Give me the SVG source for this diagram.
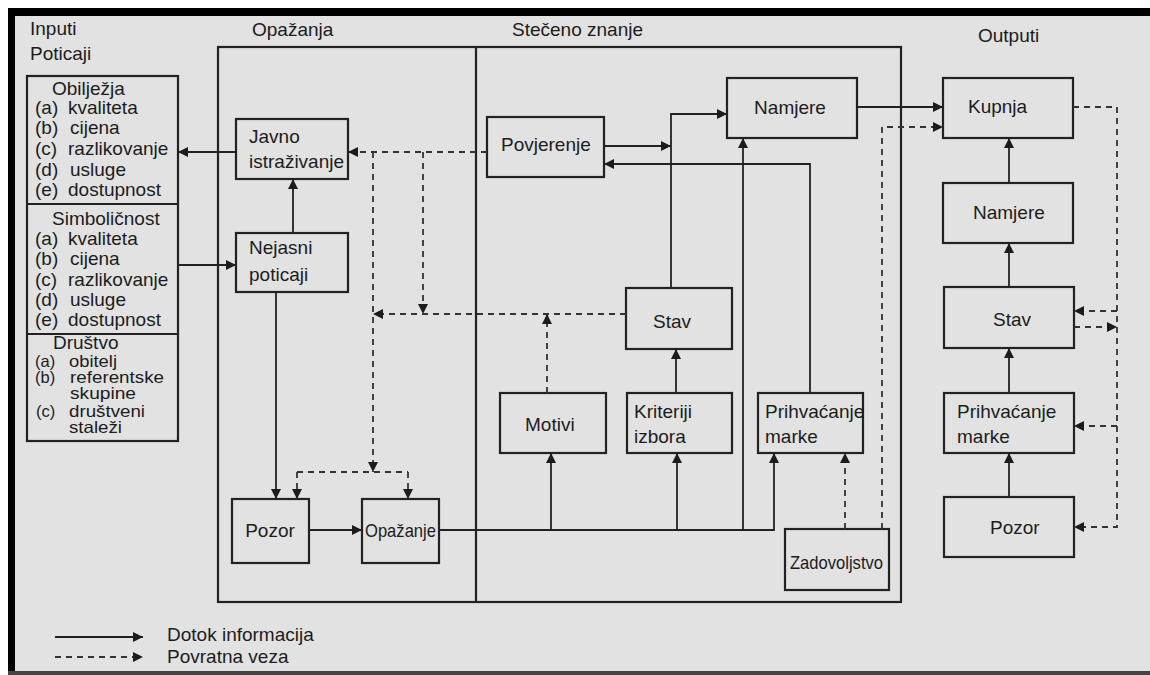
<svg xmlns="http://www.w3.org/2000/svg" width="1150" height="675" viewBox="0 0 1150 675">
<defs>
<style>
text{font-family:"Liberation Sans",Arial,sans-serif;font-size:19px;fill:#1c1c1c}
.m{text-anchor:middle}
.s{font-size:16.5px}
.box{fill:none;stroke:#222;stroke-width:2.2}
.ln{fill:none;stroke:#222;stroke-width:1.8}
.ds{fill:none;stroke:#333;stroke-width:1.8;stroke-dasharray:6 5}
</style>
<marker id="a" viewBox="0 0 10 10" refX="10" refY="5" markerWidth="11" markerHeight="10" markerUnits="userSpaceOnUse" orient="auto">
<path d="M0,0 L10,5 L0,10 Z" fill="#1c1c1c"/>
</marker>
</defs>
<rect x="0" y="0" width="1150" height="675" fill="#ffffff"/>
<rect x="8" y="8" width="1142" height="667" fill="#e2e2e2"/>
<rect x="8" y="8" width="1142" height="8" fill="#000"/>
<rect x="8" y="8" width="7" height="667" fill="#000"/>
<rect x="8" y="671" width="1142" height="4" fill="#444"/>

<g id="headers">
<text x="30" y="35">Inputi</text>
<text x="30" y="60">Poticaji</text>
<text x="252" y="36">Opažanja</text>
<text x="512" y="36">Stečeno znanje</text>
<text x="978" y="42">Outputi</text>
</g>

<g id="frame">
<rect class="box" x="218" y="47" width="683" height="555"/>
<line class="box" x1="476" y1="47" x2="476" y2="602"/>
</g>

<g id="inputi">
<rect class="box" x="27" y="76" width="151" height="365"/>
<line class="box" x1="27" y1="204" x2="178" y2="204"/>
<line class="box" x1="27" y1="334" x2="178" y2="334"/>
<text x="52" y="95">Obilježja</text>
<text x="35" y="114">(a)</text><text x="68" y="114">kvaliteta</text>
<text x="35" y="134">(b)</text><text x="70" y="134">cijena</text>
<text x="35" y="155">(c)</text><text x="68" y="155">razlikovanje</text>
<text x="35" y="176">(d)</text><text x="70" y="176">usluge</text>
<text x="35" y="196">(e)</text><text x="68" y="196">dostupnost</text>
<text x="52" y="225">Simboličnost</text>
<text x="35" y="245">(a)</text><text x="68" y="245">kvaliteta</text>
<text x="35" y="265">(b)</text><text x="70" y="265">cijena</text>
<text x="35" y="286">(c)</text><text x="68" y="286">razlikovanje</text>
<text x="35" y="306">(d)</text><text x="70" y="306">usluge</text>
<text x="35" y="326">(e)</text><text x="68" y="326">dostupnost</text>
<text x="53" y="349">Društvo</text>
<text class="s" x="35" y="367">(a)</text><text class="s" x="69" y="367" textLength="48" lengthAdjust="spacingAndGlyphs">obitelj</text>
<text class="s" x="35" y="383">(b)</text><text class="s" x="70" y="383" textLength="94" lengthAdjust="spacingAndGlyphs">referentske</text>
<text class="s" x="70" y="399" textLength="66" lengthAdjust="spacingAndGlyphs">skupine</text>
<text class="s" x="36" y="417">(c)</text><text class="s" x="69" y="417" textLength="76" lengthAdjust="spacingAndGlyphs">društveni</text>
<text class="s" x="69" y="433" textLength="53" lengthAdjust="spacingAndGlyphs">staleži</text>
</g>

<g id="javno"><rect class="box" x="236" y="119" width="112" height="60"/><text x="249" y="143">Javno</text><text x="249" y="168">istraživanje</text></g>
<g id="nejasni"><rect class="box" x="236" y="233" width="112" height="59"/><text x="249" y="254">Nejasni</text><text x="249" y="281">poticaji</text></g>
<g id="pozor1"><rect class="box" x="232" y="499" width="77" height="64"/><text class="m" x="270" y="537">Pozor</text></g>
<g id="opazanje"><rect class="box" x="362" y="499" width="77" height="64"/><text x="365" y="537" textLength="71" lengthAdjust="spacingAndGlyphs">Opažanje</text></g>
<g id="povjerenje"><rect class="box" x="487" y="117" width="117" height="60"/><text x="501" y="151">Povjerenje</text></g>
<g id="namjere1"><rect class="box" x="727" y="78" width="130" height="60"/><text class="m" x="790" y="114">Namjere</text></g>
<g id="stav1"><rect class="box" x="626" y="288" width="106" height="61"/><text class="m" x="672" y="328">Stav</text></g>
<g id="motivi"><rect class="box" x="500" y="393" width="106" height="60"/><text x="525" y="431">Motivi</text></g>
<g id="kriteriji"><rect class="box" x="627" y="393" width="105" height="60"/><text x="634" y="418">Kriteriji</text><text x="634" y="443">izbora</text></g>
<g id="prihvacanje1"><rect class="box" x="758" y="393" width="105" height="60"/><text x="765" y="418">Prihvaćanje</text><text x="765" y="443">marke</text></g>
<g id="zadovoljstvo"><rect class="box" x="785" y="529" width="104" height="61"/><text x="790" y="569" textLength="93" lengthAdjust="spacingAndGlyphs">Zadovoljstvo</text></g>
<g id="kupnja"><rect class="box" x="943" y="78" width="130" height="60"/><text x="968" y="113">Kupnja</text></g>
<g id="namjere2"><rect class="box" x="943" y="183" width="130" height="60"/><text x="973" y="219">Namjere</text></g>
<g id="stav2"><rect class="box" x="944" y="287" width="130" height="61"/><text x="993" y="326">Stav</text></g>
<g id="prihvacanje2"><rect class="box" x="944" y="393" width="130" height="60"/><text x="957" y="418">Prihvaćanje</text><text x="957" y="443">marke</text></g>
<g id="pozor2"><rect class="box" x="944" y="497" width="130" height="60"/><text x="990" y="534">Pozor</text></g>

<g id="connectors">
<path class="ln" d="M236,152 H178" marker-end="url(#a)"/>
<path class="ln" d="M178,265 H236" marker-end="url(#a)"/>
<path class="ln" d="M293,233 V179" marker-end="url(#a)"/>
<path class="ln" d="M276,292 V499" marker-end="url(#a)"/>
<path class="ln" d="M309,530 H362" marker-end="url(#a)"/>
<path class="ln" d="M439,530 H774 V453" marker-end="url(#a)"/>
<path class="ln" d="M551,530 V453" marker-end="url(#a)"/>
<path class="ln" d="M677,530 V453" marker-end="url(#a)"/>
<path class="ln" d="M743,530 V138" marker-end="url(#a)"/>
<path class="ln" d="M676,393 V349" marker-end="url(#a)"/>
<path class="ln" d="M671,288 V114 H727" marker-end="url(#a)"/>
<path class="ln" d="M604,146 H671" marker-end="url(#a)"/>
<path class="ln" d="M810,393 V164 H604" marker-end="url(#a)"/>
<path class="ln" d="M857,107 H943" marker-end="url(#a)"/>
<path class="ln" d="M1009,183 V138" marker-end="url(#a)"/>
<path class="ln" d="M1009,287 V243" marker-end="url(#a)"/>
<path class="ln" d="M1009,393 V348" marker-end="url(#a)"/>
<path class="ln" d="M1009,497 V453" marker-end="url(#a)"/>

<path class="ds" d="M487,152 H348" marker-end="url(#a)"/>
<path class="ds" d="M373,152 V472" marker-end="url(#a)"/>
<path class="ds" d="M423,152 V314" marker-end="url(#a)"/>
<path class="ds" d="M626,314 H373" marker-end="url(#a)"/>
<path class="ds" d="M547,393 V314" marker-end="url(#a)"/>
<path class="ds" d="M297,472 H408"/>
<path class="ds" d="M297,472 V499" marker-end="url(#a)"/>
<path class="ds" d="M408,472 V499" marker-end="url(#a)"/>
<path class="ds" d="M845,529 V453" marker-end="url(#a)"/>
<path class="ds" d="M882,529 V127 H943" marker-end="url(#a)"/>
<path class="ds" d="M1073,107 H1117 V527 H1074" marker-end="url(#a)"/>
<path class="ds" d="M1117,311 H1074" marker-end="url(#a)"/>
<path class="ds" d="M1074,327 H1117" marker-end="url(#a)"/>
<path class="ds" d="M1117,426 H1074" marker-end="url(#a)"/>
</g>

<g id="legend">
<path class="ln" d="M55,637 H143" marker-end="url(#a)"/>
<path class="ds" d="M55,657 H143" marker-end="url(#a)"/>
<text x="167" y="641">Dotok informacija</text>
<text x="167" y="663">Povratna veza</text>
</g>
</svg>
